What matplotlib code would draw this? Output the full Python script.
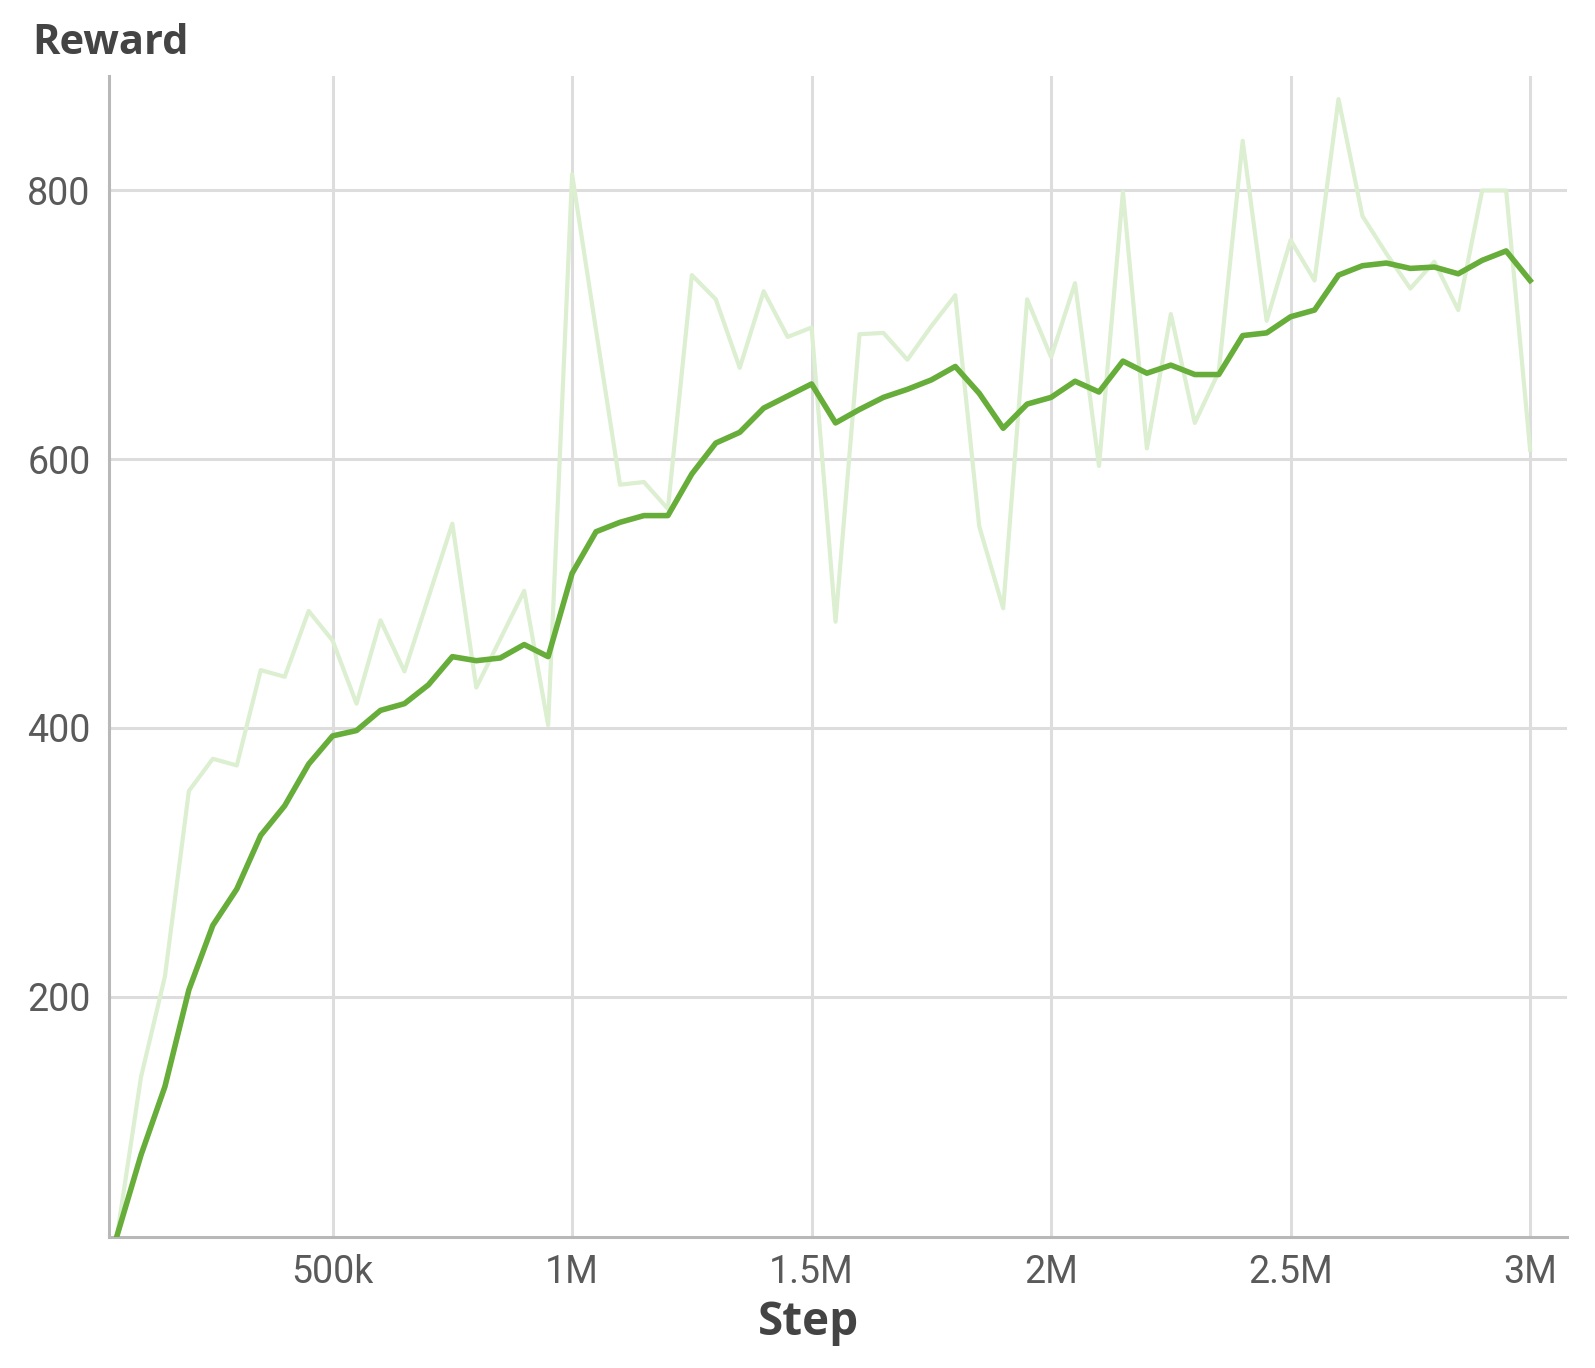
import matplotlib
matplotlib.use("Agg")
import matplotlib.pyplot as plt

steps = [50000 * k for k in range(1, 61)]

raw_reward = [
    22, 140, 215, 353, 377, 372, 443, 438, 487, 465,
    418, 480, 442, 497, 552, 430, 466, 502, 402, 812,
    696, 581, 583, 563, 737, 719, 668, 725, 691, 698,
    479, 693, 694, 674, 699, 722, 550, 489, 719, 676,
    731, 595, 799, 608, 708, 627, 665, 837, 703, 763,
    733, 868, 781, 753, 727, 747, 711, 800, 800, 607,
]

smoothed_reward = [
    22, 82, 133, 205, 253, 280, 320, 342, 373, 394,
    398, 413, 418, 432, 453, 450, 452, 462, 453, 515,
    546, 553, 558, 558, 589, 612, 620, 638, 647, 656,
    627, 637, 646, 652, 659, 669, 649, 623, 641, 646,
    658, 650, 673, 664, 670, 663, 663, 692, 694, 706,
    711, 737, 744, 746, 742, 743, 738, 748, 755, 733,
]

x_ticks = [500000, 1000000, 1500000, 2000000, 2500000, 3000000]
x_tick_labels = ["500k", "1M", "1.5M", "2M", "2.5M", "3M"]
y_ticks = [200, 400, 600, 800]

W, H = 1595, 1368
fig = plt.figure(figsize=(W / 100, H / 100), dpi=100)
ax = fig.add_axes([108.8 / W, 1 - 1237 / H, (1566.5 - 108.8) / W, (1237 - 76.3) / H])

ax.plot(steps, raw_reward, color="#dcefd1", lw=3.0, zorder=2)
ax.plot(steps, smoothed_reward, color="#67ad3a", lw=4.0, zorder=3)

ax.set_xlim(32800, 3076000)
ax.set_ylim(21, 885)
ax.set_xticks(x_ticks)
ax.set_xticklabels(x_tick_labels)
ax.set_yticks(y_ticks)

ax.grid(True, color="#dddddd", lw=2.2, zorder=0)
ax.set_axisbelow(True)
for s in ["top", "right"]:
    ax.spines[s].set_visible(False)
for s in ["left", "bottom"]:
    ax.spines[s].set_color("#b8b8b8")
    ax.spines[s].set_linewidth(2.2)

ax.tick_params(axis="both", length=0, labelsize=27, labelcolor="#5a5a5a")
ax.tick_params(axis="x", pad=12)
ax.tick_params(axis="y", pad=13)
for lab in ax.get_xticklabels() + ax.get_yticklabels():
    lab.set_fontfamily("Roboto")

fig.text(809 / W, 1 - 1322 / H, "Step", fontsize=33, fontweight="bold",
         color="#444444", family="Open Sans", ha="center", va="center")
fig.text(32.5 / W, 1 - 43 / H, "Reward", fontsize=30, fontweight="bold",
         color="#444444", family="Open Sans", ha="left", va="center")

fig.savefig("out.png", dpi=100, facecolor="white")
